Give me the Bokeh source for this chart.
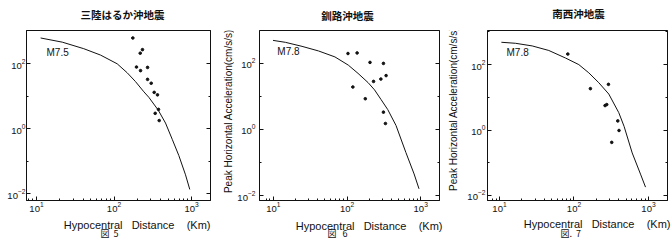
import math
from bokeh.plotting import figure
from bokeh.layouts import row, column
from bokeh.models import (LogAxis, FixedTicker, LogTickFormatter, CustomJSTickFormatter,
                          Range1d, Label)
from bokeh.embed import file_html
from bokeh.resources import INLINE

# ---------------- data ----------------
titles = ["三陸はるか沖地震", "釧路沖地震", "南西沖地震"]
captions = ["図\u00a0\u00a05", "図\u00a0\u00a0\u00a06", "図.\u00a0\u00a07"]
magnitudes = ["M7.5", "M7.8", "M7.8"]
x_title = "Hypocentral\u00a0\u00a0\u00a0Distance\u00a0\u00a0\u00a0\u00a0(Km)"
y_title = "Peak Horizontal Acceleration(cm/s/s)"

x_major = [10, 100, 1000]
x_minor = [8, 9, 20, 30, 40, 50, 60, 70, 80, 90,
           200, 300, 400, 500, 600, 700, 800, 900]
y_major = [0.01, 1, 100]
y_minor = [0.1, 10, 1000]

# panel 1 (三陸はるか沖)
curve1_dist = [11.3, 21.5, 40.7, 67, 110, 148, 189, 243, 281, 372, 462, 564, 686, 837, 950]
curve1_pga = [610, 454, 286, 182, 98, 52, 28, 13.5, 9.2, 3.7, 1.48, 0.47, 0.149, 0.038, 0.0135]
obs1_dist = [175, 233, 218, 195, 220, 271, 271, 302, 330, 364, 375, 340, 383]
obs1_pga = [610, 267, 208, 78, 60.5, 76, 32.6, 24.8, 13, 10.9, 3.9, 2.95, 1.77]

# panel 2 (釧路沖)
curve2_dist = [9.9, 14.6, 24.5, 41, 68.5, 104, 141, 193, 236, 290, 357, 462, 629, 813, 948]
curve2_pga = [486, 424, 321, 233, 154, 87, 49, 25.8, 15.6, 7.9, 3.95, 1.31, 0.20, 0.045, 0.016]
obs2_dist = [103, 137, 205, 312, 339, 288, 229, 120, 177, 312, 332]
obs2_pga = [195, 203, 105, 98, 42, 33, 28, 19, 8.4, 3.3, 1.5]

# panel 3 (南西沖)
curve3_dist = [10.6, 16.4, 27.5, 45.9, 76.9, 116, 158, 215, 293, 399, 470, 604, 781, 912]
curve3_pga = [481, 448, 372, 270, 159, 100, 56, 28, 12.6, 3.4, 1.3, 0.2, 0.045, 0.018]
obs3_dist = [82.6, 166, 290, 261, 275, 387, 402, 321]
obs3_pga = [210, 18.4, 24.9, 5.6, 6.0, 1.9, 0.97, 0.42]

# ---------------- layout (page pixels) ----------------
FONT = "Liberation Sans"
CJK = "Noto Sans CJK JP"
INK = "#111111"
W, H = 672, 240
TOP_H = 24          # strip holding the panel titles
BOT_Y = 218         # strip holding x titles and captions starts here
MID_H = BOT_Y - TOP_H

panels = [
    dict(x0=0, w=218, frame=(26, 210, 28, 203), xr=(0.871, 3.245), yr=(-2.209, 3.015),
         curve=(curve1_dist, curve1_pga), obs=(obs1_dist, obs1_pga),
         mlab=(46, 50.7), title=(122, 13.5), xt=(210, 224.5), cap=(100, 233), ystand=1),
    dict(x0=234, w=212, frame=(257, 439, 30, 202), xr=(0.812, 3.255), yr=(-2.149, 2.985),
         curve=(curve2_dist, curve2_pga), obs=(obs2_dist, obs2_pga),
         mlab=(275, 51.7), title=(347, 14.5), xt=(442, 225), cap=(327, 233), ystand=4),
    dict(x0=462, w=210, frame=(487, 667, 27, 200), xr=(0.839, 3.255), yr=(-2.153, 3.042),
         curve=(curve3_dist, curve3_pga), obs=(obs3_dist, obs3_pga),
         mlab=(506, 49.3), title=(578, 12.5), xt=(670, 223), cap=(560, 232.5), ystand=2),
]
# vertical y-title strips: (left, width, centre x, centre y) in page pixels
ystrips = [(218, 16, 228, 116), (446, 16, 453, 113.5)]


def to_data(cfg, px, py):
    fx0, fx1, fy0, fy1 = cfg["frame"]
    xr0, xr1 = cfg["xr"]
    yr0, yr1 = cfg["yr"]
    lx = xr0 + (px - fx0) / (fx1 - fx0) * (xr1 - xr0)
    ly = yr1 - (py - fy0) / (fy1 - fy0) * (yr1 - yr0)
    return 10 ** lx, 10 ** ly


def strip(width, height):
    s = figure(width=width, height=height, x_range=Range1d(0, width),
               y_range=Range1d(height, 0), x_axis_location=None, y_axis_location=None,
               toolbar_location=None, output_backend="svg",
               min_border_left=0, min_border_right=0, min_border_top=0, min_border_bottom=0)
    s.outline_line_color = None
    s.grid.visible = False
    s.background_fill_color = "white"
    s.border_fill_color = "white"
    return s


def inward(ax):
    ax.axis_line_color = INK
    ax.major_tick_line_color = INK
    ax.minor_tick_line_color = INK
    ax.major_tick_in = 4
    ax.major_tick_out = 0
    ax.minor_tick_in = 2
    ax.minor_tick_out = 0


top = strip(W, TOP_H)
bottom = strip(W, H - BOT_Y)

plots = []
for i, cfg in enumerate(panels):
    fx0, fx1, fy0, fy1 = cfg["frame"]
    p = figure(width=cfg["w"], height=MID_H, x_axis_type="log", y_axis_type="log",
               x_range=Range1d(10 ** cfg["xr"][0], 10 ** cfg["xr"][1]),
               y_range=Range1d(10 ** cfg["yr"][0], 10 ** cfg["yr"][1]),
               output_backend="svg", toolbar_location=None,
               min_border_left=fx0 - cfg["x0"], min_border_right=cfg["x0"] + cfg["w"] - fx1,
               min_border_top=fy0 - TOP_H, min_border_bottom=BOT_Y - fy1)
    p.background_fill_color = "white"
    p.border_fill_color = "white"
    p.outline_line_color = INK
    p.outline_line_width = 1
    p.grid.visible = False

    xa = p.xaxis[0]
    xa.ticker = FixedTicker(ticks=x_major, minor_ticks=x_minor)
    xa.formatter = LogTickFormatter()
    ya = p.yaxis[0]
    ya.ticker = FixedTicker(ticks=y_major, minor_ticks=y_minor)
    ya.formatter = LogTickFormatter()
    for ax in (xa, ya):
        inward(ax)
        ax.major_label_text_font = FONT
        ax.major_label_text_font_size = "9.5px"
        ax.major_label_text_color = INK
    xa.major_label_standoff = 1
    ya.major_label_standoff = cfg["ystand"]

    ra = LogAxis(ticker=FixedTicker(ticks=y_major, minor_ticks=y_minor),
                 formatter=CustomJSTickFormatter(code="return ''"))
    inward(ra)
    ra.major_label_standoff = 0
    ra.major_label_text_color = None
    p.add_layout(ra, "right")

    cd, cp = cfg["curve"]
    p.line(cd, cp, line_color=INK, line_width=1)
    od, op = cfg["obs"]
    p.scatter(od, op, size=2.6, color=INK)

    mx, my = to_data(cfg, *cfg["mlab"])
    p.add_layout(Label(x=mx, y=my, text=magnitudes[i], text_font=FONT,
                       text_font_size="10px", text_baseline="middle",
                       text_align="left", text_color=INK))
    plots.append(p)

    # texts outside the frames go into the strips
    tx, ty = cfg["title"]
    top.add_layout(Label(x=tx, y=ty, text=titles[i], text_font=CJK,
                         text_font_size="10.5px", text_font_style="bold",
                         text_baseline="middle", text_align="center", text_color=INK))
    xx, xy = cfg["xt"]
    bottom.add_layout(Label(x=xx, y=xy - BOT_Y, text=x_title, text_font=FONT,
                            text_font_size="11px", text_baseline="middle",
                            text_align="right", text_color=INK))
    cx, cy = cfg["cap"]
    bottom.add_layout(Label(x=cx, y=cy - BOT_Y, text=captions[i], text_font=CJK,
                            text_font_size="9px", text_baseline="middle",
                            text_align="left", text_color=INK))

ys = []
for left, wdt, cxp, cyp in ystrips:
    s = strip(wdt, MID_H)
    s.add_layout(Label(x=cxp - left, y=cyp - TOP_H, text=y_title, text_font=FONT,
                       text_font_size="10px", text_baseline="middle",
                       text_align="center", angle=math.pi / 2, text_color=INK))
    ys.append(s)

middle = row(plots[0], ys[0], plots[1], ys[1], plots[2])
layout = column(top, middle, bottom)
open("out.html", "w").write(file_html(layout, INLINE))
